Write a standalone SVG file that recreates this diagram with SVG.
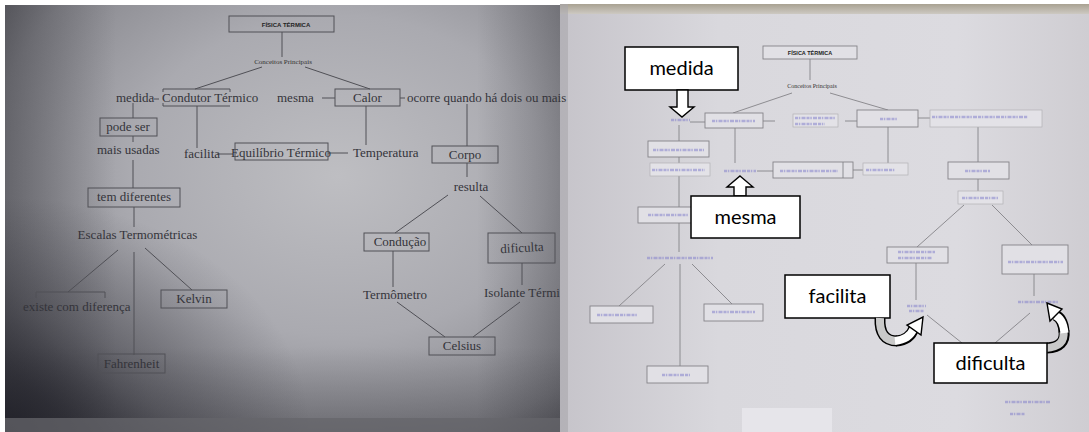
<svg xmlns="http://www.w3.org/2000/svg" width="1089" height="432" viewBox="0 0 1089 432">
<defs>
<radialGradient id="lbg" cx="0.6" cy="0.4" r="0.75">
<stop offset="0" stop-color="#bebec2"/>
<stop offset="0.5" stop-color="#aaaab0"/>
<stop offset="0.85" stop-color="#88888e"/>
<stop offset="1" stop-color="#6c6c72"/>
</radialGradient>
<radialGradient id="lbl" cx="0" cy="1" r="0.55">
<stop offset="0" stop-color="#1c1c24" stop-opacity="0.85"/>
<stop offset="0.5" stop-color="#1c1c24" stop-opacity="0.35"/>
<stop offset="1" stop-color="#1c1c24" stop-opacity="0"/>
</radialGradient>
<linearGradient id="lshadeV" x1="0" y1="0" x2="0" y2="1">
<stop offset="0" stop-color="#202026" stop-opacity="0"/>
<stop offset="0.8" stop-color="#202026" stop-opacity="0"/>
<stop offset="1" stop-color="#202026" stop-opacity="0.3"/>
</linearGradient>
<linearGradient id="lshadeH" x1="0" y1="0" x2="1" y2="0">
<stop offset="0" stop-color="#2a2a30" stop-opacity="0.4"/>
<stop offset="0.2" stop-color="#2a2a30" stop-opacity="0"/>
<stop offset="0.85" stop-color="#2a2a30" stop-opacity="0"/>
<stop offset="1" stop-color="#2a2a30" stop-opacity="0.3"/>
</linearGradient>
<linearGradient id="rbg" x1="0" y1="0" x2="1" y2="0">
<stop offset="0" stop-color="#c6c4ca"/>
<stop offset="0.3" stop-color="#d9d8dd"/>
<stop offset="0.75" stop-color="#dcdbe0"/>
<stop offset="1" stop-color="#cfcdd2"/>
</linearGradient>
<linearGradient id="rtop" x1="0" y1="0" x2="0" y2="1">
<stop offset="0" stop-color="#a9a292"/>
<stop offset="1" stop-color="#cdc9c2"/>
</linearGradient>
<filter id="soft" filterUnits="userSpaceOnUse" x="0" y="0" width="1089" height="432"><feGaussianBlur stdDeviation="0.7"/></filter>
<clipPath id="lclip"><rect x="5" y="5" width="555" height="427"/></clipPath>
<clipPath id="rclip"><rect x="560" y="4" width="529" height="428"/></clipPath>
<style>
.lt{font-family:"Liberation Serif","Times New Roman",serif;font-size:13px;fill:#34343a}
.lc{text-anchor:middle}
.ln{stroke:#505056;stroke-width:1;fill:none}
.lb{stroke:#505056;stroke-width:1;fill:none}
.title{font-family:"Liberation Sans",Arial,sans-serif;font-weight:bold;fill:#222}
.sub{font-family:"Liberation Serif",serif;fill:#333}
.rl{stroke:#858388;stroke-width:0.9;fill:none}
.rb{stroke:#858388;stroke-width:0.9;fill:#e1e0e5}
.rbf{stroke:#b3b1b6;stroke-width:0.7;fill:#e3e2e7}
.hw{stroke:#8683cc;stroke-width:2.4;stroke-dasharray:3 0.8 1.5 1.2 4 1;opacity:0.55;fill:none;filter:url(#soft)}
.co{fill:#fff;stroke:#000;stroke-width:1.5}
.ct{font-family:Lato,"Open Sans",sans-serif;font-size:20px;fill:#000;text-anchor:middle}
.ar{fill:#fff;stroke:#000;stroke-width:1.4;stroke-linejoin:miter}
</style>
</defs>

<rect x="0" y="0" width="1089" height="432" fill="#ffffff"/>

<!-- left photo background -->
<g id="left-photo" clip-path="url(#lclip)">
<rect x="5" y="5" width="555" height="427" fill="url(#lbg)"/>
<rect x="5" y="5" width="555" height="427" fill="url(#lshadeH)"/>
<rect x="5" y="5" width="555" height="427" fill="url(#lshadeV)"/>
<rect x="5" y="5" width="555" height="427" fill="url(#lbl)"/>
<rect x="5" y="418" width="555" height="14" fill="#66666b" opacity="0.75"/>
</g>

<!-- right photo background -->
<g id="right-photo" clip-path="url(#rclip)">
<rect x="560" y="4" width="529" height="428" fill="url(#rbg)"/>
<rect x="560" y="4" width="529" height="10" fill="url(#rtop)"/>
<rect x="560" y="4" width="8" height="428" fill="#a8a6ab" opacity="0.6"/>
<rect x="742" y="408" width="90" height="24" fill="#e6e5ea"/>
</g>

<!-- LEFT MAP connectors -->
<g id="left-connectors">
<line class="ln" x1="282" y1="32" x2="282" y2="57"/>
<line class="ln" x1="262" y1="67" x2="195" y2="89"/>
<line class="ln" x1="305" y1="67" x2="370" y2="89"/>
<line class="ln" x1="154" y1="99" x2="159" y2="99"/>
<line class="ln" x1="322" y1="98" x2="335" y2="98"/>
<line class="ln" x1="400" y1="98" x2="405" y2="98"/>
<line class="ln" x1="366" y1="106" x2="366" y2="145"/>
<line class="ln" x1="467" y1="104" x2="467" y2="146"/>
<line class="ln" x1="467" y1="163" x2="467" y2="177"/>
<line class="ln" x1="133" y1="103" x2="133" y2="118"/>
<line class="ln" x1="133" y1="136" x2="133" y2="142"/>
<line class="ln" x1="133" y1="160" x2="133" y2="188"/>
<line class="ln" x1="197" y1="106" x2="197" y2="148"/>
<line class="ln" x1="217" y1="154" x2="233" y2="154"/>
<line class="ln" x1="328" y1="153" x2="348" y2="153"/>
<line class="ln" x1="134" y1="207" x2="134" y2="227"/>
<line class="ln" x1="118" y1="250" x2="68" y2="292"/>
<path class="ln" d="M36,298 V292 H105 V298"/>
<line class="ln" x1="145" y1="248" x2="192" y2="290"/>
<line class="ln" x1="134" y1="252" x2="134" y2="355"/>
<line class="ln" x1="448" y1="195" x2="395" y2="233"/>
<line class="ln" x1="480" y1="196" x2="522" y2="233"/>
<line class="ln" x1="393" y1="251" x2="393" y2="287"/>
<line class="ln" x1="522" y1="263" x2="522" y2="285"/>
<line class="ln" x1="397" y1="302" x2="445" y2="337"/>
<line class="ln" x1="520" y1="302" x2="473" y2="337"/>
</g>

<!-- LEFT MAP nodes -->
<g id="l-fisica"><rect class="lb" x="229" y="16" width="105" height="16"/><text class="title lc" x="286" y="26.5" font-size="6">FÍSICA TÉRMICA</text></g>
<g id="l-conceitos"><text class="sub lc" x="283" y="63.5" font-size="7">Conceitos Principais</text></g>
<g id="l-medida"><text class="lt" x="116" y="102">medida</text></g>
<g id="l-condutor"><path class="lb" d="M163,92 V89 H230 V92 M163,103 V106 H230"/><text class="lt" x="162" y="102">Condutor Térmico</text></g>
<g id="l-mesma"><text class="lt" x="277" y="102">mesma</text></g>
<g id="l-calor"><rect class="lb" x="335" y="89" width="65" height="17"/><text class="lt lc" x="367.5" y="102">Calor</text></g>
<g id="l-ocorre"><text class="lt" x="407" y="102">ocorre quando há dois ou mais</text></g>
<g id="l-temperatura"><text class="lt" x="353" y="157">Temperatura</text></g>
<g id="l-corpo"><rect class="lb" x="432" y="146" width="66" height="17"/><text class="lt lc" x="465" y="159">Corpo</text></g>
<g id="l-resulta"><text class="lt lc" x="471" y="191">resulta</text></g>
<g id="l-podeser"><rect class="lb" x="100" y="118" width="57" height="18"/><text class="lt lc" x="128" y="131">pode ser</text></g>
<g id="l-maisusadas"><text class="lt" x="97" y="154">mais usadas</text></g>
<g id="l-facilita"><text class="lt" x="184" y="158">facilita</text></g>
<g id="l-equilibrio"><rect class="lb" x="235" y="143" width="93" height="17"/><text class="lt lc" x="281" y="157">Equilíbrio Térmico</text></g>
<g id="l-temdiferentes"><rect class="lb" x="88" y="188" width="92" height="19"/><text class="lt lc" x="134" y="201">tem diferentes</text></g>
<g id="l-escalas"><text class="lt lc" x="137.5" y="239">Escalas Termométricas</text></g>
<g id="l-existe"><text class="lt" x="23" y="311">existe com diferença</text></g>
<g id="l-kelvin"><rect class="lb" x="161" y="290" width="66" height="18"/><text class="lt lc" x="194" y="303">Kelvin</text></g>
<g id="l-fahrenheit"><rect class="lb" x="98" y="354" width="67" height="19"/><text class="lt lc" x="131.5" y="368">Fahrenheit</text></g>
<g id="l-conducao"><rect class="lb" x="364" y="233" width="65" height="18"/><text class="lt lc" x="400" y="246">Condução</text></g>
<g id="l-termometro"><text class="lt" x="363" y="299">Termômetro</text></g>
<g id="l-dificulta"><rect class="lb" x="488" y="233" width="67" height="30"/><text class="lt lc" x="522" y="252" transform="rotate(-3 522 248)">dificulta</text></g>
<g id="l-isolante" clip-path="url(#lclip)"><text class="lt" x="484" y="297">Isolante Térmico</text></g>
<g id="l-celsius"><rect class="lb" x="429" y="337" width="66" height="18"/><text class="lt lc" x="462" y="350">Celsius</text></g>

<!-- RIGHT MAP connectors -->
<g id="right-connectors">
<line class="rl" x1="810" y1="59" x2="810" y2="80"/>
<line class="rl" x1="792" y1="93" x2="733" y2="113"/>
<line class="rl" x1="830" y1="93" x2="888" y2="110"/>
<line class="rl" x1="690" y1="122" x2="705" y2="122"/>
<line class="rl" x1="763" y1="121" x2="775" y2="121"/>
<line class="rl" x1="845" y1="121" x2="857" y2="121"/>
<line class="rl" x1="918" y1="118" x2="930" y2="118"/>
<line class="rl" x1="735" y1="128" x2="735" y2="163"/>
<line class="rl" x1="757" y1="171" x2="773" y2="171"/>
<line class="rl" x1="853" y1="170" x2="863" y2="170"/>
<line class="rl" x1="888" y1="127" x2="888" y2="163"/>
<line class="rl" x1="978" y1="127" x2="978" y2="162"/>
<line class="rl" x1="978" y1="179" x2="978" y2="191"/>
<line class="rl" x1="964" y1="205" x2="917" y2="247"/>
<line class="rl" x1="992" y1="205" x2="1032" y2="245"/>
<line class="rl" x1="916" y1="263" x2="916" y2="300"/>
<line class="rl" x1="1034" y1="274" x2="1034" y2="296"/>
<line class="rl" x1="927" y1="315" x2="962" y2="343"/>
<line class="rl" x1="1030" y1="313" x2="995" y2="343"/>
<line class="rl" x1="679" y1="125" x2="679" y2="141"/>
<line class="rl" x1="679" y1="157" x2="679" y2="163"/>
<line class="rl" x1="679" y1="176" x2="679" y2="207"/>
<line class="rl" x1="679" y1="223" x2="679" y2="252"/>
<line class="rl" x1="665" y1="264" x2="619" y2="306"/>
<line class="rl" x1="692" y1="264" x2="732" y2="304"/>
<line class="rl" x1="680" y1="264" x2="680" y2="366"/>
</g>

<!-- RIGHT MAP nodes -->
<g id="r-fisica"><rect class="rb" x="763" y="46" width="94" height="13"/><text class="title lc" x="810" y="55" font-size="5.5">FÍSICA TÉRMICA</text></g>
<g id="r-conceitos"><text class="sub lc" x="812" y="88" font-size="6">Conceitos Principais</text></g>
<g id="r-medida"><path class="hw" d="M671,120 H690"/></g>
<g id="r-boxA"><rect class="rb" x="705" y="113" width="58" height="15"/><path class="hw" d="M712,121 H755"/></g>
<g id="r-two"><rect class="rbf" x="793" y="114" width="45" height="13"/><path class="hw" d="M795,118 H835 M795,124 H825"/></g>
<g id="r-calor"><rect class="rb" x="857" y="110" width="61" height="17"/><path class="hw" d="M880,119 H898"/></g>
<g id="r-ocorre"><rect class="rbf" x="930" y="110" width="112" height="17"/><path class="hw" d="M932,117 H1028"/></g>
<g id="r-left1"><rect class="rb" x="648" y="141" width="61" height="16"/><path class="hw" d="M653,150 H704"/></g>
<g id="r-left2"><rect class="rbf" x="650" y="163" width="60" height="13"/><path class="hw" d="M652,170 H705"/></g>
<g id="r-left3"><rect class="rb" x="638" y="207" width="54" height="16"/><path class="hw" d="M648,215 H688"/></g>
<g id="r-mesma"><path class="hw" d="M724,171 H756"/></g>
<g id="r-eq"><rect class="rb" x="773" y="162" width="80" height="16"/><line class="rl" x1="843" y1="162" x2="843" y2="178"/><path class="hw" d="M780,171 H838"/></g>
<g id="r-temp"><rect class="rbf" x="863" y="163" width="45" height="12"/><path class="hw" d="M866,170 H895"/></g>
<g id="r-corpo"><rect class="rb" x="948" y="162" width="61" height="17"/><path class="hw" d="M965,171 H990"/></g>
<g id="r-resulta"><rect class="rbf" x="958" y="191" width="45" height="13"/><path class="hw" d="M962,198 H998"/></g>
<g id="r-escalas"><path class="hw" d="M647,258 H713"/></g>
<g id="r-b1"><rect class="rb" x="590" y="306" width="63" height="17"/><path class="hw" d="M597,315 H637"/></g>
<g id="r-b2"><rect class="rb" x="704" y="304" width="59" height="17"/><path class="hw" d="M712,312 H755"/></g>
<g id="r-b3"><rect class="rb" x="647" y="366" width="61" height="17"/><path class="hw" d="M662,375 H690"/></g>
<g id="r-conducao"><rect class="rb" x="887" y="247" width="61" height="16"/><path class="hw" d="M898,252 H935 M898,258 H932"/></g>
<g id="r-right"><rect class="rb" x="1002" y="245" width="66" height="29"/><path class="hw" d="M1008,262 H1063"/></g>
<g id="r-facilita"><path class="hw" d="M907,306 H926 M909,311 H924"/></g>
<g id="r-dificulta"><path class="hw" d="M1018,302 H1058"/></g>
<g id="r-signature"><path class="hw" d="M1005,402 H1050 M1010,414 H1025"/></g>

<!-- Callouts -->
<g id="callout-medida">
<rect class="co" x="625" y="47" width="113" height="43"/>
<text class="ct" x="681.5" y="75">medida</text>
<polygon class="ar" points="677,90 688,90 688,107 694,107 682,117 670,107 677,107"/>
</g>
<g id="callout-mesma">
<polygon class="ar" points="740,176 753,187 746,187 746,196 734,196 734,187 727,187"/>
<rect class="co" x="691" y="196" width="109" height="42"/>
<text class="ct" x="745.5" y="224">mesma</text>
</g>
<g id="callout-facilita">
<rect class="co" x="785" y="275" width="105" height="43"/>
<text class="ct" x="837.5" y="303">facilita</text>
<path d="M880,318 Q879,341 897,341" fill="none" stroke="#000" stroke-width="11"/>
<path d="M880,318 Q879,341 897,341" fill="none" stroke="#c9c9c9" stroke-width="8"/>
<path d="M896,341 Q910,340 914,328" fill="none" stroke="#000" stroke-width="11"/>
<path d="M895,341 Q909,339.5 913.5,329" fill="none" stroke="#fff" stroke-width="8"/>
<polygon class="ar" points="923,317 921,335 907,325"/>
</g>
<g id="callout-dificulta">
<path d="M1047,348 Q1066,347 1064,331" fill="none" stroke="#000" stroke-width="11"/>
<path d="M1046,348 Q1065.5,347 1063.5,331" fill="none" stroke="#c9c9c9" stroke-width="8"/>
<path d="M1064,332 Q1063,318 1055,315" fill="none" stroke="#000" stroke-width="11"/>
<path d="M1064.5,333 Q1063,318.5 1055,315.5" fill="none" stroke="#fff" stroke-width="8"/>
<polygon class="ar" points="1047,303 1062,309 1050,321"/>
<rect class="co" x="934" y="343" width="113" height="40"/>
<text class="ct" x="990.5" y="370">dificulta</text>
</g>
</svg>
